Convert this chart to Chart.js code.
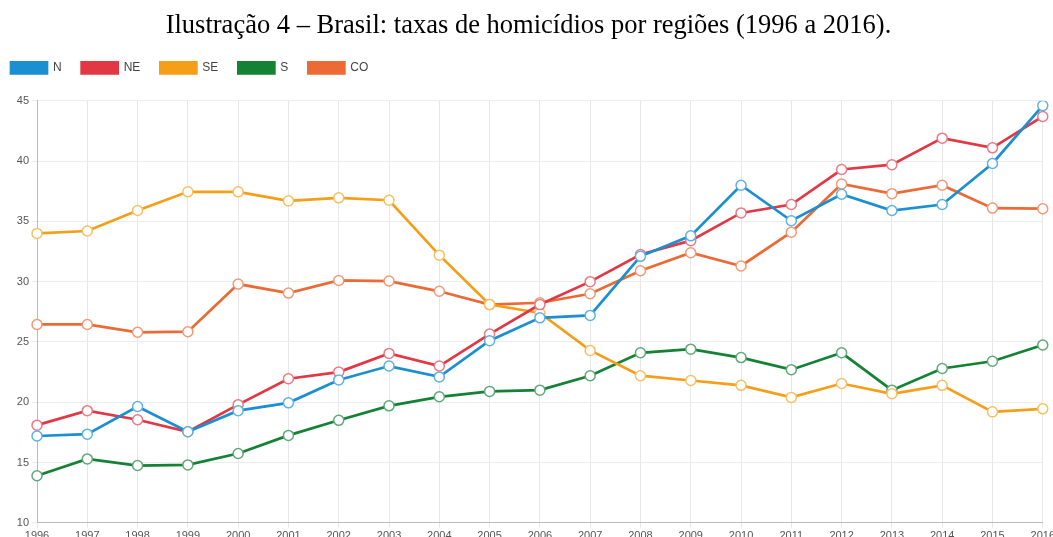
<!DOCTYPE html>
<html>
<head>
<meta charset="utf-8">
<script src="https://cdn.jsdelivr.net/npm/chart.js@4"></script>
<style>
  html, body { margin: 0; padding: 0; background: #fff; overflow: hidden; }
  #wrap { position: absolute; left: 0; top: 0; width: 1057px; height: 545px; }
</style>
</head>
<body>
<div id="wrap"><canvas id="chart" width="1057" height="545"></canvas></div>
<script>
const years = ['1996', '1997', '1998', '1999', '2000', '2001', '2002', '2003', '2004', '2005', '2006',
    '2007', '2008', '2009', '2010', '2011', '2012', '2013', '2014', '2015', '2016'];

const norte = [17.2, 17.35, 19.65, 17.55, 19.3, 19.95, 21.85, 23.0, 22.1, 25.1, 27.0,
    27.2, 32.1, 33.8, 38.0, 35.05, 37.25, 35.9, 36.4, 39.8, 44.6];
const nordeste = [18.1, 19.3, 18.55, 17.55, 19.8, 21.95, 22.5, 24.05, 23.0, 25.65, 28.1,
    30.0, 32.25, 33.4, 35.7, 36.4, 39.3, 39.7, 41.9, 41.1, 43.7];
const sudeste = [34.0, 34.2, 35.9, 37.45, 37.45, 36.7, 36.95, 36.75, 32.2, 28.1, 27.4,
    24.3, 22.2, 21.8, 21.4, 20.4, 21.55, 20.7, 21.4, 19.2, 19.45];
const sul = [13.9, 15.3, 14.75, 14.8, 15.75, 17.25, 18.5, 19.7, 20.45, 20.9, 21.0,
    22.2, 24.1, 24.4, 23.7, 22.7, 24.1, 21.0, 22.8, 23.4, 24.75];
const centroOeste = [26.45, 26.45, 25.8, 25.85, 29.8, 29.05, 30.1, 30.05, 29.2, 28.1, 28.25,
    29.0, 30.9, 32.4, 31.3, 34.1, 38.1, 37.3, 38.0, 36.1, 36.05];

const yTicks = [10, 15, 20, 25, 30, 35, 40, 45];

function series(label, data, color, pointColor) {
    return {
        label: label,
        data: data,
        borderColor: color,
        backgroundColor: color,
        borderWidth: 2.7,
        tension: 0,
        fill: false,
        pointRadius: 5,
        pointHoverRadius: 5,
        pointBorderWidth: 1.5,
        pointBorderColor: pointColor,
        pointBackgroundColor: '#ffffff'
    };
}

// legend sits further left and leaves a gap before the plot
const legendTweak = {
    id: 'legendTweak',
    beforeInit(chart) {
        const fit = chart.legend.fit;
        chart.legend.fit = function () {
            fit.bind(chart.legend)();
            this.height += 17;
        };
    },
    afterLayout(chart) {
        chart.legend.left -= 9;
    }
};

const ctx = document.getElementById('chart').getContext('2d');
new Chart(ctx, {
    type: 'line',
    data: {
        labels: years,
        datasets: [
            series('N', norte, '#1a8fd1', '#5fb2e2'),
            series('NE', nordeste, '#e23744', '#ec7a84'),
            series('SE', sudeste, '#f59e18', '#f8c064'),
            series('S', sul, '#148235', '#5fa877'),
            series('CO', centroOeste, '#ec6a35', '#f29a76')
        ]
    },
    plugins: [legendTweak],
    options: {
        responsive: false,
        animation: false,
        plugins: {
            title: {
                display: true,
                text: 'Ilustração 4 – Brasil: taxas de homicídios por regiões (1996 a 2016).',
                color: '#000',
                font: { family: '"Liberation Serif", "Times New Roman", serif', size: 26.5, weight: 'normal' },
                padding: { top: 10, bottom: 0 }
            },
            legend: {
                align: 'start',
                labels: {
                    boxWidth: 36,
                    boxHeight: 11,
                    padding: 20,
                    color: '#444',
                    font: { family: '"Liberation Sans", Arial, sans-serif', size: 12 }
                }
            },
            tooltip: { enabled: false }
        },
        scales: {
            x: {
                offset: false,
                grid: { color: '#e8e8e8', tickLength: 5 },
                border: { color: '#bbbbbb' },
                ticks: {
                    color: '#555',
                    padding: 2,
                    maxRotation: 0,
                    autoSkip: false,
                    font: { family: '"Liberation Sans", Arial, sans-serif', size: 11 }
                }
            },
            y: {
                min: yTicks[0],
                max: yTicks[yTicks.length - 1],
                afterBuildTicks: axis => { axis.ticks = yTicks.map(v => ({ value: v })); },
                afterFit: axis => { axis.width = 37; },
                grid: { color: '#ececec', tickLength: 5 },
                border: { color: '#bbbbbb' },
                ticks: {
                    color: '#555',
                    padding: 3,
                    font: { family: '"Liberation Sans", Arial, sans-serif', size: 11 }
                }
            }
        }
    }
});
</script>
</body>
</html>
